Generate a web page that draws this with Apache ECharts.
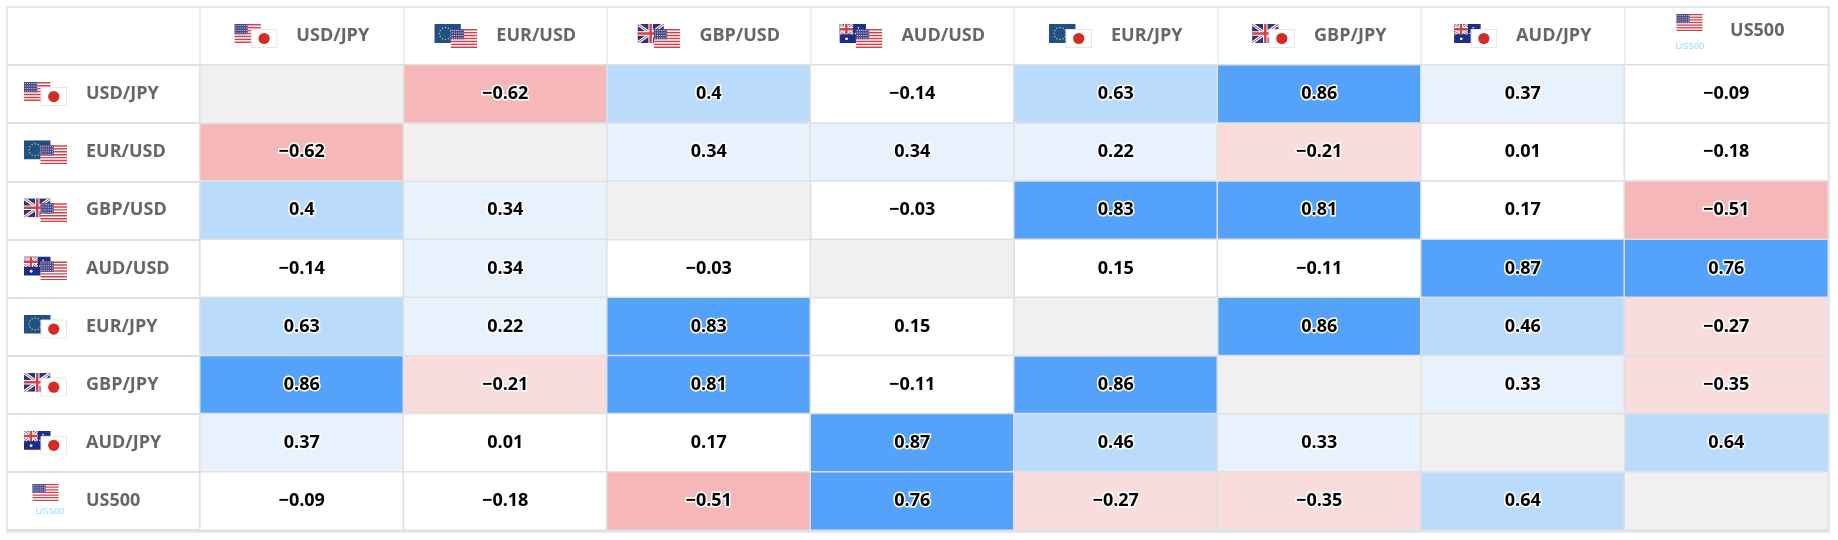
<!DOCTYPE html>
<html><head><meta charset="utf-8">
<style>html,body{margin:0;padding:0;background:#fff}#c{width:1838px;height:540px}</style>
<script src="https://cdn.jsdelivr.net/npm/echarts@6/dist/echarts.min.js"></script>
</head><body><div id="c"></div>
<script>
const symbols = ['USD/JPY','EUR/USD','GBP/USD','AUD/USD','EUR/JPY','GBP/JPY','AUD/JPY','US500'];
const row0 = [null,-0.62,0.4,-0.14,0.63,0.86,0.37,-0.09];
const row1 = [-0.62,null,0.34,0.34,0.22,-0.21,0.01,-0.18];
const row2 = [0.4,0.34,null,-0.03,0.83,0.81,0.17,-0.51];
const row3 = [-0.14,0.34,-0.03,null,0.15,-0.11,0.87,0.76];
const row4 = [0.63,0.22,0.83,0.15,null,0.86,0.46,-0.27];
const row5 = [0.86,-0.21,0.81,-0.11,0.86,null,0.33,-0.35];
const row6 = [0.37,0.01,0.17,0.87,0.46,0.33,null,0.64];
const row7 = [-0.09,-0.18,-0.51,0.76,-0.27,-0.35,0.64,null];
const rows = [row0,row1,row2,row3,row4,row5,row6,row7];

const cells = [], diag = [];
rows.forEach((r,y)=>r.forEach((v,x)=>{ if(v===null) diag.push([x,y,0]); else cells.push([x,y,v]); }));

function us(x,y,w,h){
  let s=`<rect x="${x}" y="${y}" width="${w}" height="${h}" fill="#fff"/>`;
  const n=7, sh=h/13;
  for(let i=0;i<n;i++) s+=`<rect x="${x}" y="${y+i*2*sh}" width="${w}" height="${sh}" fill="#d0424a"/>`;
  s+=`<rect x="${x}" y="${y}" width="${w*0.5}" height="${sh*7}" fill="#4a4a86"/>`;
  for(let i=0;i<6;i++)for(let j=0;j<4;j++) s+=`<rect x="${x+1+i*w*0.08}" y="${y+1+j*sh*1.7}" width="1" height="1" fill="#cfcfe4"/>`;
  return s;
}
function jp(x,y,w,h){
  return `<rect x="${x+.5}" y="${y+.5}" width="${w-1}" height="${h-1}" fill="#fff" stroke="#e6e6e6"/><circle cx="${x+w/2}" cy="${y+h/2}" r="5.6" fill="#d52b22"/>`;
}
function eu(x,y,w,h){
  let s=`<rect x="${x}" y="${y}" width="${w}" height="${h}" fill="#1f5087"/>`;
  const cx=x+w*0.42, cy=y+h/2;
  for(let i=0;i<12;i++){const a=i*Math.PI/6; s+=`<circle cx="${cx+6*Math.cos(a)}" cy="${cy+6*Math.sin(a)}" r="0.75" fill="#d8c93c"/>`;}
  return s;
}
function jack(x,y,w,h){
  const x2=x+w,y2=y+h,cx=x+w/2,cy=y+h/2;
  return `<rect x="${x}" y="${y}" width="${w}" height="${h}" fill="#25357f"/>`+
  `<path d="M${x} ${y}L${x2} ${y2}M${x2} ${y}L${x} ${y2}" stroke="#fff" stroke-width="3"/>`+
  `<path d="M${x} ${y}L${x2} ${y2}M${x2} ${y}L${x} ${y2}" stroke="#d0424a" stroke-width="1"/>`+
  `<path d="M${cx} ${y}V${y2}M${x} ${cy}H${x2}" stroke="#fff" stroke-width="4.5"/>`+
  `<path d="M${cx} ${y}V${y2}M${x} ${cy}H${x2}" stroke="#d0424a" stroke-width="2.5"/>`;
}
function uk(x,y,w,h){ return `<svg x="${x}" y="${y}" width="${w}" height="${h}">${jack(0,0,w,h)}</svg>`; }
function au(x,y,w,h){
  let s=`<rect x="${x}" y="${y}" width="${w}" height="${h}" fill="#1b2e86"/>`+`<svg x="${x}" y="${y}" width="${w*0.52}" height="${h*0.55}">${jack(0,0,w*0.52,h*0.55)}</svg>`;
  [[.72,.2,.8],[.9,.35,.8],[.78,.7,.8],[.6,.5,.7],[.27,.78,1.4]].forEach(p=>{s+=`<circle cx="${x+w*p[0]}" cy="${y+h*p[1]}" r="${p[2]}" fill="#fff"/>`;});
  return s;
}
const drawers={US:us,JP:jp,EU:eu,UK:uk,AU:au};
function uri(body,w,h){ return 'data:image/svg+xml;charset=utf-8,'+encodeURIComponent(`<svg xmlns="http://www.w3.org/2000/svg" width="${w*2}" height="${h*2}" viewBox="0 0 ${w} ${h}">${body}</svg>`); }
const flagPairs = {'USD/JPY':['US','JP'],'EUR/USD':['EU','US'],'GBP/USD':['UK','US'],'AUD/USD':['AU','US'],'EUR/JPY':['EU','JP'],'GBP/JPY':['UK','JP'],'AUD/JPY':['AU','JP']};
const rich = {txt:{fontFamily:'Open Sans',fontWeight:'bold',fontSize:18,color:'#666',padding:[0,0,0,19]}};
function tag(i){return 'f'+i;}
symbols.forEach((s,i)=>{
  const p=flagPairs[s];
  if(p){
    rich[tag(i)]={width:43,height:24,backgroundColor:{image:uri(drawers[p[0]](0,0,26.5,19)+drawers[p[1]](16.5,5,26.5,19),43,24)}};
  }else{
    rich[tag(i)]={width:43,height:34,backgroundColor:{image:uri(us(8.5,0,26,17),43,34)}};
  }
});
const fmtAxis = v=>`{${tag(symbols.indexOf(v))}|}{txt|${v}}`;

const chart = echarts.init(document.getElementById('c'),null,{renderer:'canvas'});
const G={left:200,top:65,w:1628,h:465};
chart.setOption({
  animation:false,
  backgroundColor:'#fff',
  grid:{left:G.left,top:G.top,width:G.w,height:G.h},
  xAxis:{type:'category',position:'top',data:symbols,
    axisLine:{show:true,lineStyle:{color:'#d3deec',width:1.5}},
    axisTick:{show:true,length:57,lineStyle:{color:'#eef0f1',width:2}},
    axisLabel:{margin:17,interval:0,formatter:fmtAxis,rich:rich},splitLine:{show:false}},
  yAxis:{type:'category',inverse:true,data:symbols,
    axisLine:{show:true,lineStyle:{color:'#e0e0e0',width:1.5}},
    axisTick:{show:true,length:192,lineStyle:{color:'#e0e0e0',width:2}},
    axisLabel:{margin:176,align:'left',interval:0,formatter:fmtAxis,rich:rich},splitLine:{show:false}},
  visualMap:{show:false,type:'piecewise',seriesIndex:0,dimension:2,pieces:[
    {gte:-1,lt:-0.5,color:'#f5b7b7'},
    {gte:-0.5,lt:-0.2,color:'#f9dcdc'},
    {gte:-0.2,lt:0.2,color:'#ffffff'},
    {gte:0.2,lt:0.4,color:'#e8f2fd'},
    {gte:0.4,lt:0.7,color:'#bbdbfd'},
    {gte:0.7,lte:1,color:'#55a2fa'}]},
  series:[
   {type:'heatmap',data:cells,itemStyle:{borderColor:'#e0e0e0',borderWidth:1.5},
    label:{show:true,fontFamily:'Open Sans',fontWeight:'bold',fontSize:18,color:'#000',textBorderColor:'#fff',textBorderWidth:3,
      formatter:p=>String(p.value[2]).replace('-','\u2212')}},
   {type:'heatmap',data:diag,itemStyle:{color:'#f0f0f0',borderColor:'#e0e0e0',borderWidth:1.5},label:{show:false}}
  ],
  graphic:[
   {type:'rect',shape:{x:7,y:7,width:1822,height:525},style:{fill:'none',stroke:'#e3e8ec',lineWidth:2},z:100},
   {type:'text',x:1690,y:46,style:{text:'US500',fontFamily:'Liberation Sans',fontSize:9.5,fill:'#94dcff',align:'center',verticalAlign:'middle'},z:100},
   {type:'text',x:50,y:511.5,style:{text:'US500',fontFamily:'Liberation Sans',fontSize:9.5,fill:'#94dcff',align:'center',verticalAlign:'middle'},z:100}
  ]
});
</script></body></html>
